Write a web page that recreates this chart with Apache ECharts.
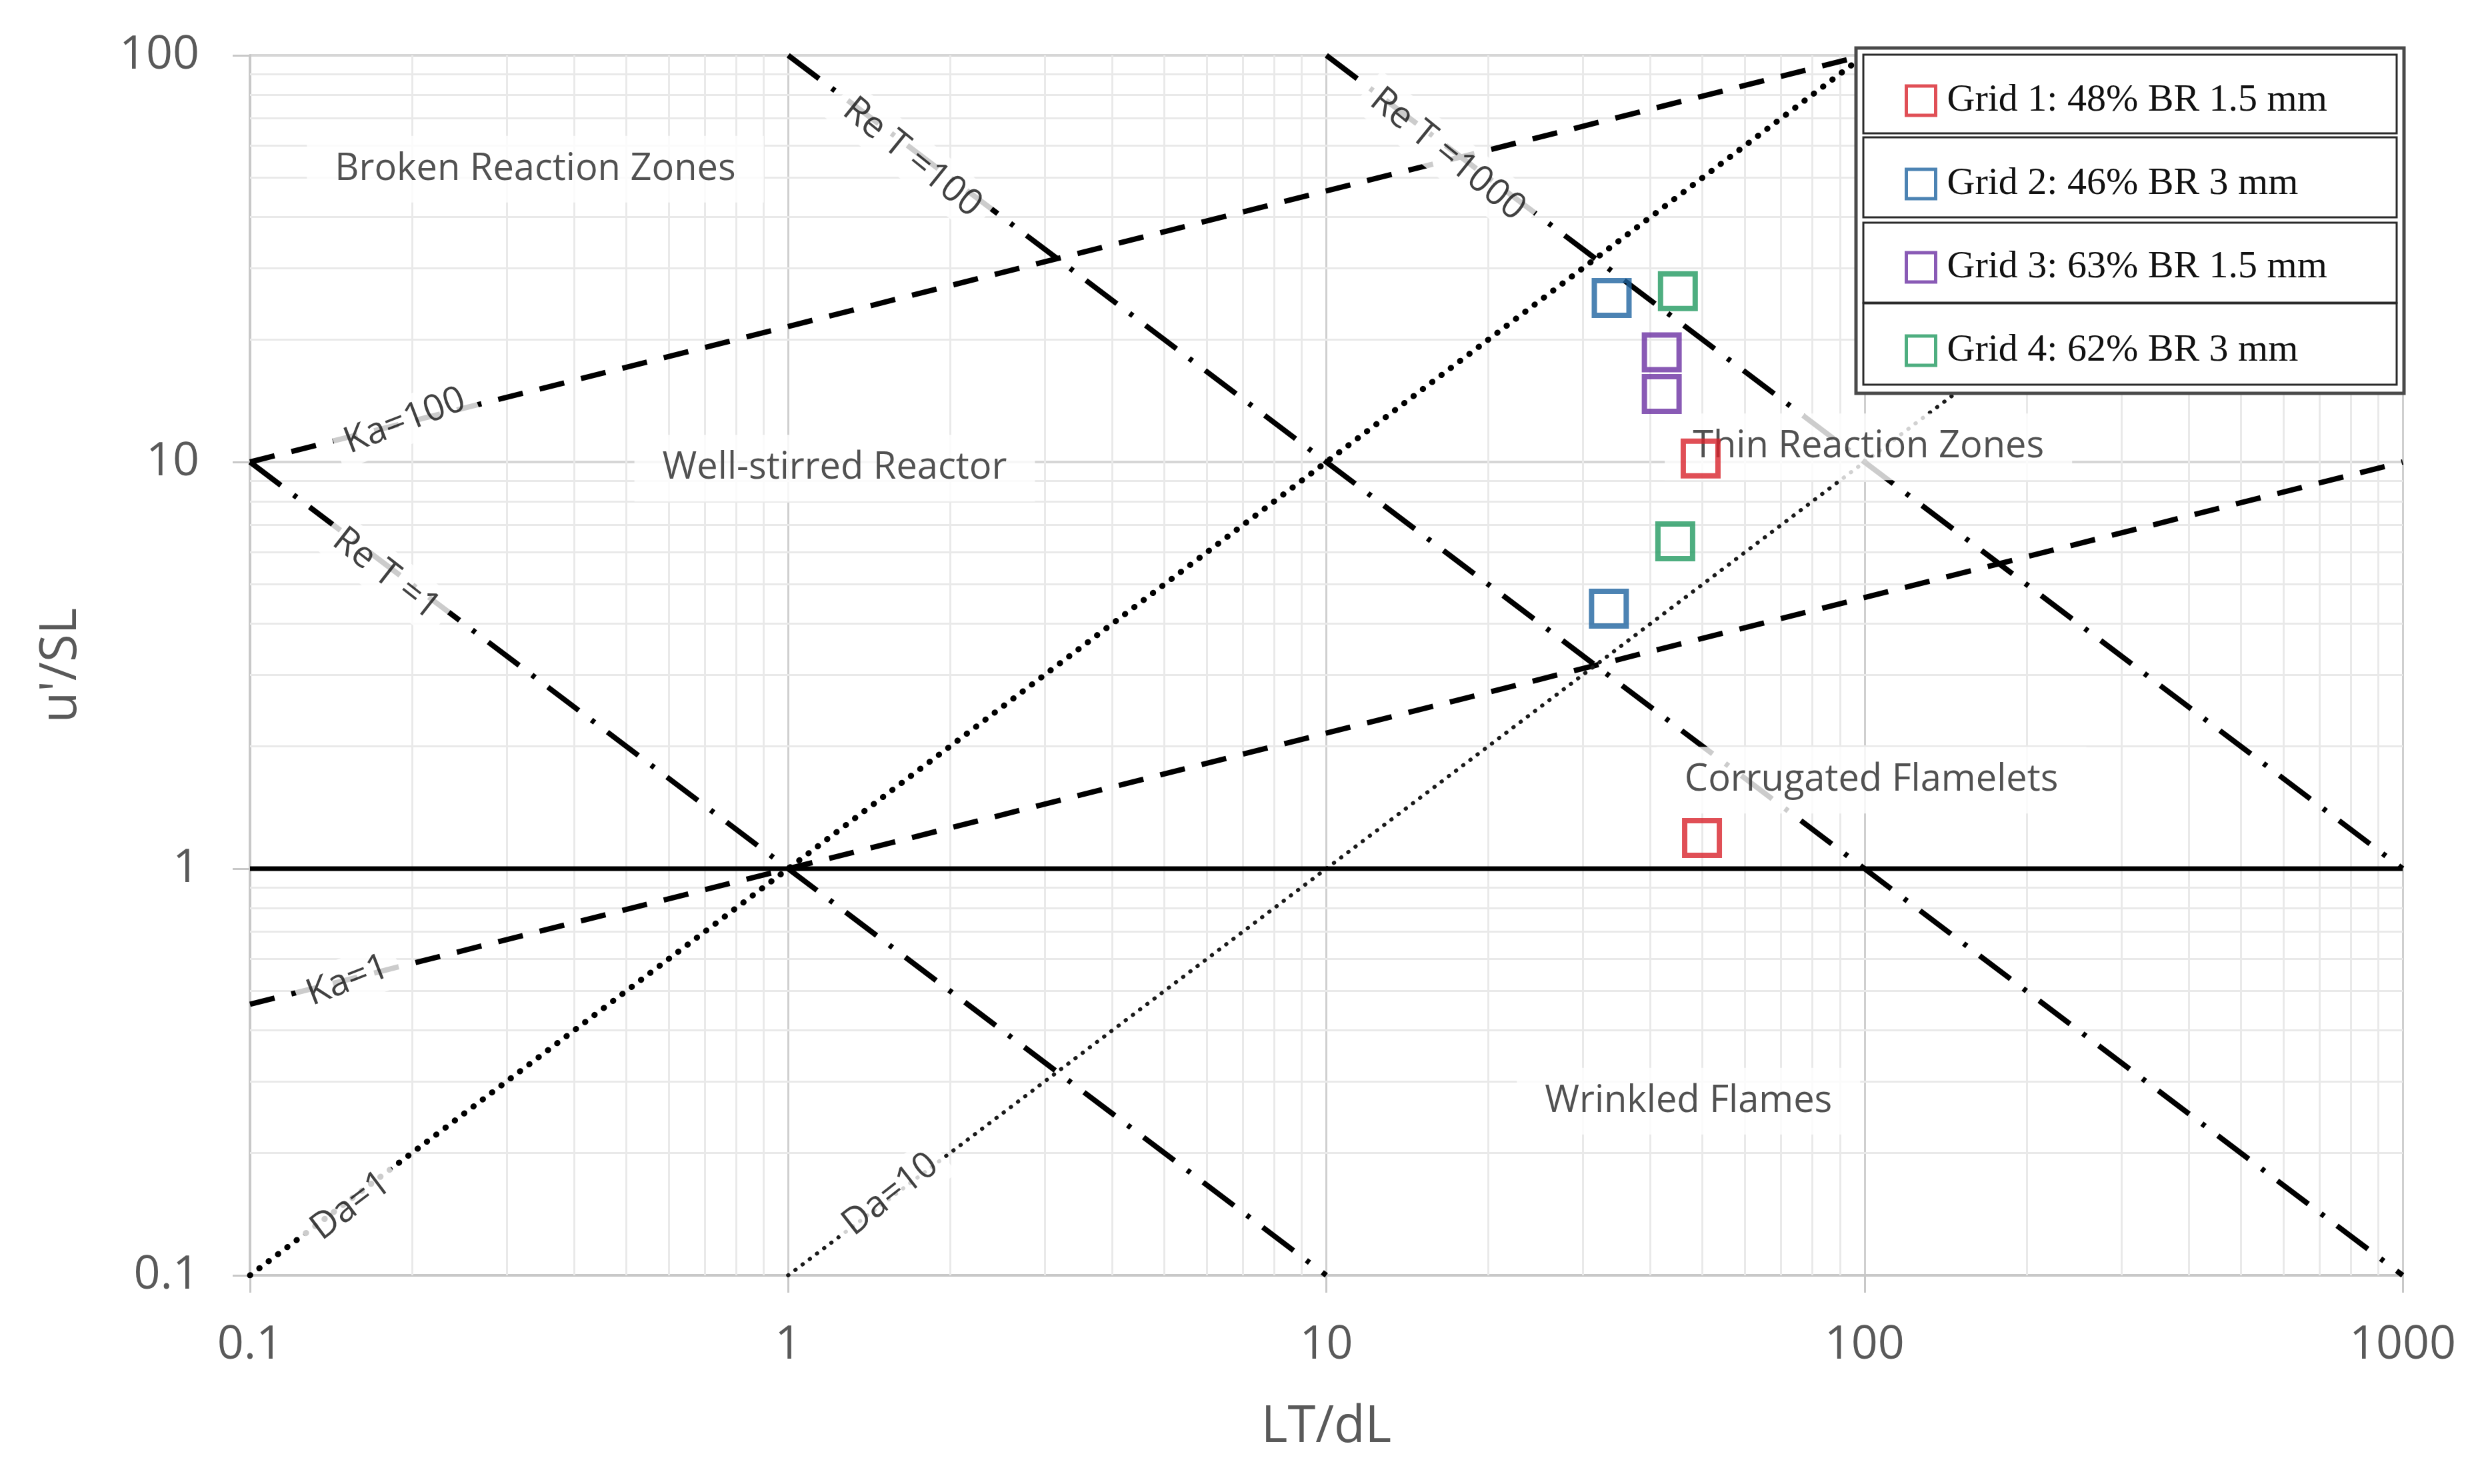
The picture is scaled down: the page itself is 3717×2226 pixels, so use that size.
<!DOCTYPE html>
<html><head><meta charset="utf-8">
<script src="https://cdn.jsdelivr.net/npm/echarts@6/dist/echarts.min.js"></script>
<style>html,body{margin:0;padding:0;background:#fff}#c{width:3717px;height:2226px}</style>
</head><body><div id="c"></div>
<script>
// ---- tick labels ----
const xTicks = [0.1, 1, 10, 100, 1000];
const yTicks = [0.1, 1, 10, 100];

// ---- measured points (LT/dL, u'/SL) ----
const seriesNames = ['Grid 1: 48% BR 1.5 mm', 'Grid 2: 46% BR 3 mm', 'Grid 3: 63% BR 1.5 mm', 'Grid 4: 62% BR 3 mm'];
const grid1 = [[49.6, 10.2], [49.9, 1.19]];
const grid2 = [[33.9, 25.3], [33.5, 4.36]];
const grid3 = [[42.0, 18.6], [42.0, 14.7]];
const grid4 = [[45.0, 26.3], [44.5, 6.38]];
const seriesColors = ['#d8232c', '#1f64a0', '#6b31a2', '#229a60'];

// ---- regime boundary lines (end points) ----
const ka100 = [[0.1, 10], [100, 100]];
const ka1 = [[0.1, 0.464], [1000, 10]];
const re1 = [[0.1, 10], [10, 0.1]];
const re100 = [[1, 100], [1000, 0.1]];
const re1000 = [[10, 100], [1000, 1]];
const da1 = [[0.1, 0.1], [100, 100]];
const da10 = [[1, 0.1], [1000, 100]];
const unity = [[0.1, 1], [1000, 1]];

// ---- text annotations ----
const regionNames = ['Broken Reaction Zones', 'Well-stirred Reactor', 'Thin Reaction Zones', 'Corrugated Flamelets', 'Wrinkled Flames'];
const regionPos = [[0.339, 52.5], [1.22, 9.66], [101.7, 10.9], [103, 1.65], [47.1, 0.268]];
const lineLabelNames = ['Ka=100', 'Ka=1', 'Re T =1', 'Re T =100', 'Re T =1000', 'Da=1', 'Da=10'];
const lineLabelPos = [[0.194, 12.6], [0.152, 0.53], [0.179, 5.3], [1.70, 56], [16.8, 57], [0.154, 0.148], [1.55, 0.158]];
const lineLabelRot = [21, 21, -38, -39, -39, 37, 38];

// minor grid positions (2..9 within each decade)
function minors(ticks) {
  const out = [];
  for (let i = 0; i < ticks.length - 1; i++) for (let k = 2; k <= 9; k++) out.push(+(k * ticks[i]).toPrecision(6));
  return out;
}
const minorX = minors(xTicks);
const minorY = minors(yTicks);

function fmt(ticks) {
  return function (v) {
    let best = ticks[0];
    for (const t of ticks) if (Math.abs(Math.log10(t) - Math.log10(v)) < Math.abs(Math.log10(best) - Math.log10(v))) best = t;
    return String(best);
  };
}

const SANS = 'Open Sans';
const chart = echarts.init(document.getElementById('c'), null, { renderer: 'canvas' });

function boundary(data, type, width, extra) {
  return Object.assign({
    type: 'line', data: data, symbol: 'none', silent: true, z: 2,
    lineStyle: { color: '#000', width: width, type: type }
  }, extra || {});
}
const dashT = [38, 26];
const dashDotT = [58, 24, 6, 24];

const option = {
  backgroundColor: '#fff',
  animation: false,
  grid: { left: 375, right: 113, top: 83, bottom: 313 },
  xAxis: {
    type: 'log', logBase: 10, min: 0.1, max: 1000,
    name: 'LT/dL', nameLocation: 'middle', nameGap: 190,
    nameTextStyle: { fontFamily: SANS, fontSize: 76, color: '#595959' },
    axisLine: { show: true, lineStyle: { color: '#c8c8c8', width: 4 } },
    axisTick: { show: true, length: 26, lineStyle: { color: '#c8c8c8', width: 3 } },
    axisLabel: { fontFamily: SANS, fontSize: 70, color: '#595959', margin: 70, formatter: fmt(xTicks) },
    splitLine: { show: true, lineStyle: { color: '#cfcfcf', width: 3 } }
  },
  yAxis: {
    type: 'log', logBase: 10, min: 0.1, max: 100,
    name: "u'/SL", nameLocation: 'middle', nameGap: 245, nameRotate: 90,
    nameTextStyle: { fontFamily: SANS, fontSize: 76, color: '#595959' },
    axisLine: { show: true, lineStyle: { color: '#c8c8c8', width: 4 } },
    axisTick: { show: true, length: 26, lineStyle: { color: '#c8c8c8', width: 3 } },
    axisLabel: { fontFamily: SANS, fontSize: 70, color: '#595959', margin: 76, formatter: fmt(yTicks) },
    splitLine: { show: true, lineStyle: { color: '#d6d6d6', width: 4 } }
  },
  legend: {
    show: true, orient: 'vertical', left: 2852, top: 117, z: 10,
    itemWidth: 44, itemHeight: 44, itemGap: 67, selectedMode: false,
    textStyle: { fontFamily: 'Liberation Serif', fontSize: 58, color: '#111', padding: [0, 0, 0, 12] },
    data: seriesNames.map((n, i) => ({ name: n, icon: 'rect', itemStyle: { color: 'rgba(255,255,255,0)', borderColor: seriesColors[i], borderWidth: 5 } }))
  },
  graphic: {
    elements: [
      { type: 'rect', z: 8, shape: { x: 2784, y: 72, width: 822, height: 518 }, style: { fill: '#fff', stroke: '#4a4a4a', lineWidth: 5 } },
      { type: 'rect', z: 9, shape: { x: 2795, y: 82, width: 800, height: 118 }, style: { fill: '#fff', stroke: '#2a2a2a', lineWidth: 3 } },
      { type: 'rect', z: 9, shape: { x: 2795, y: 206, width: 800, height: 120 }, style: { fill: '#fff', stroke: '#2a2a2a', lineWidth: 3 } },
      { type: 'rect', z: 9, shape: { x: 2795, y: 334, width: 800, height: 120 }, style: { fill: '#fff', stroke: '#2a2a2a', lineWidth: 3 } },
      { type: 'rect', z: 9, shape: { x: 2795, y: 455, width: 800, height: 122 }, style: { fill: '#fff', stroke: '#2a2a2a', lineWidth: 3 } }
    ]
  },
  series: [
    // minor gridlines
    {
      type: 'line', data: [], silent: true, z: 1,
      markLine: {
        z: 1, silent: true, symbol: ['none', 'none'], label: { show: false }, animation: false,
        lineStyle: { color: '#e9e9e9', width: 3, type: 'solid' },
        emphasis: { disabled: true },
        data: minorX.map(v => ({ xAxis: v })).concat(minorY.map(v => ({ yAxis: v })))
      }
    },
    boundary(ka100, dashT, 8),
    boundary(ka1, dashT, 8),
    boundary(re1, dashDotT, 8),
    boundary(re100, dashDotT, 8),
    boundary(re1000, dashDotT, 8),
    boundary(da1, [0.5, 17], 8, { lineStyle: { color: '#000', width: 9, type: [0.5, 17], cap: 'round' } }),
    boundary(da10, [0.5, 13], 5, { lineStyle: { color: '#1a1a1a', width: 6, type: [0.5, 13], cap: 'round' } }),
    boundary(unity, 'solid', 7),
    // region labels
    {
      type: 'scatter', silent: true, z: 3, symbolSize: 1, itemStyle: { color: 'rgba(0,0,0,0)' },
      label: { show: true, position: 'inside', formatter: '{b}', fontFamily: SANS, fontSize: 56, color: '#262626', backgroundColor: '#fff', padding: [22, 42] },
      data: regionNames.map((n, i) => ({ name: n, value: regionPos[i] }))
    },
    // line labels
    {
      type: 'scatter', silent: true, z: 3, symbolSize: 1, itemStyle: { color: 'rgba(0,0,0,0)' },
      label: { show: true, position: 'inside', formatter: '{b}', fontFamily: SANS, fontSize: 55, color: '#111', backgroundColor: '#fff', padding: [8, 16] },
      data: lineLabelNames.map((n, i) => ({ name: n, value: lineLabelPos[i], label: { rotate: lineLabelRot[i] } }))
    },
    // measured data
    ...[grid1, grid2, grid3, grid4].map((d, i) => ({
      type: 'scatter', name: seriesNames[i], data: d, z: 4,
      symbol: 'rect', symbolSize: 52,
      itemStyle: { color: 'rgba(255,255,255,0)', borderColor: seriesColors[i], borderWidth: 8 }
    }))
  ]
};
chart.setOption(option);
</script>
</body></html>
